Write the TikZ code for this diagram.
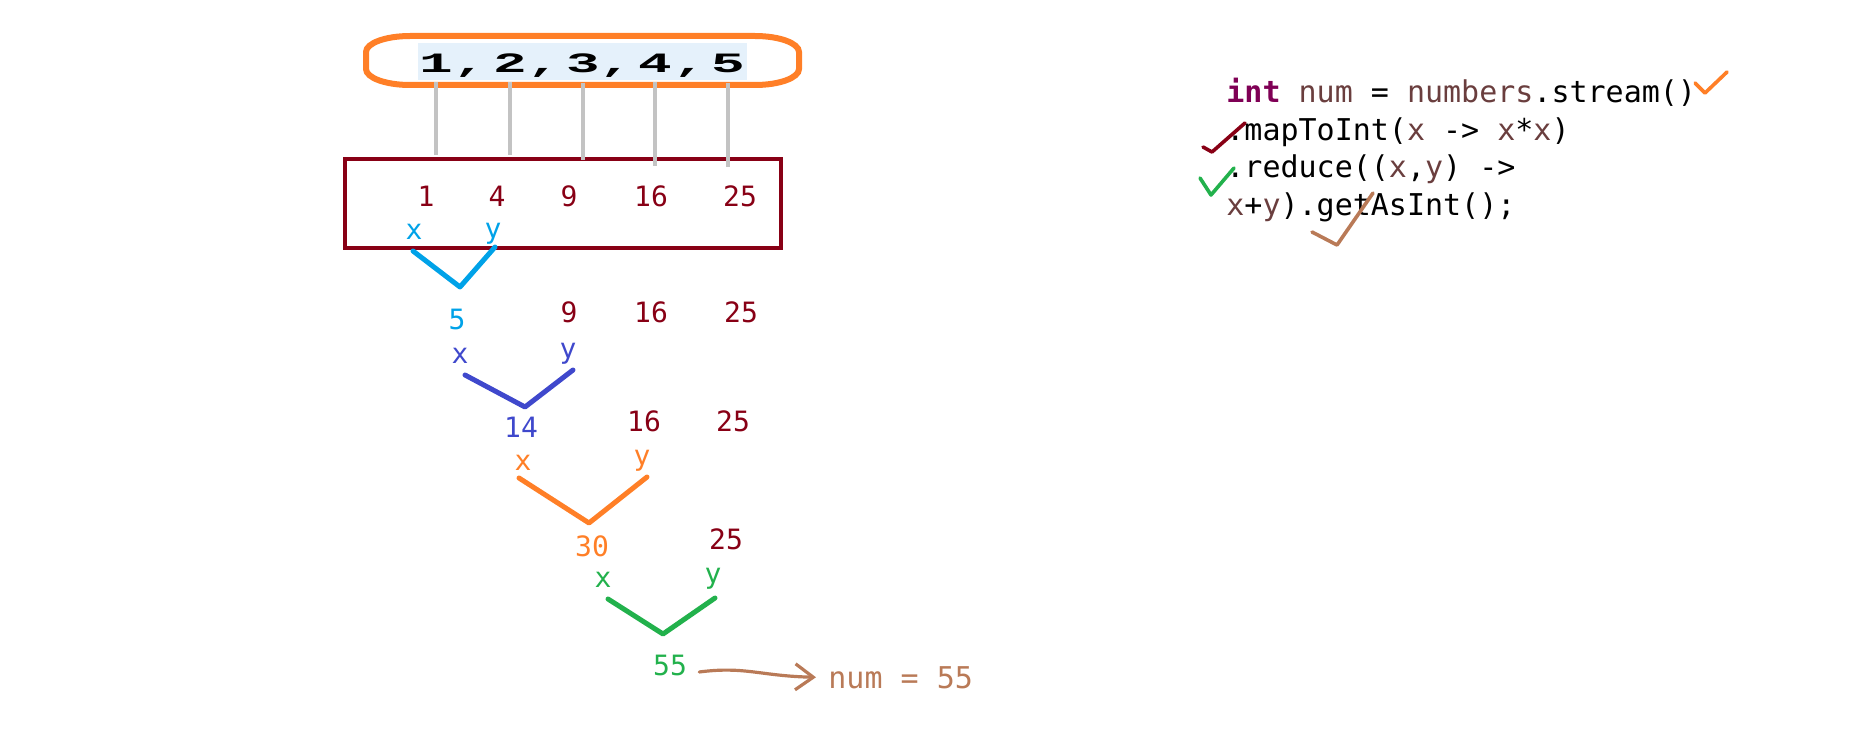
\documentclass[tikz,border=0pt]{standalone}
\usepackage{fontspec}
\setmonofont{DejaVu Sans Mono}
\newfontfamily\arrfont{Liberation Mono}[FakeStretch=2.0]
\usetikzlibrary{arrows.meta}
\definecolor{boxred}{HTML}{880015}
\definecolor{pcyan}{HTML}{00A2E8}
\definecolor{pblue}{HTML}{3F48CC}
\definecolor{porange}{HTML}{FF7F27}
\definecolor{pgreen}{HTML}{22B14C}
\definecolor{pbrown}{HTML}{B97A57}
\definecolor{linegray}{HTML}{C3C3C3}
\definecolor{hilite}{HTML}{E5F1FB}
\definecolor{kw}{HTML}{7F0055}
\definecolor{var}{HTML}{6A3E3E}
\begin{document}
\begin{tikzpicture}[x=0.5pt,y=-0.5pt,
  digit/.style={font=\arrfont\bfseries\fontsize{14}{14}\selectfont, anchor=base, inner sep=0pt},
  val/.style={font=\ttfamily\fontsize{14}{14}\selectfont, anchor=base, inner sep=0pt, text=boxred},
  link/.style={draw=linegray, line width=2pt},
  vee/.style={line width=2.5pt, line cap=round, line join=round},
  tick/.style={line width=1.8pt, line cap=round, line join=round},
  code/.style={font=\ttfamily\fontsize{15}{15}\selectfont, anchor=base west, inner sep=0pt}]
\useasboundingbox (0,0) rectangle (1850,743);
% source list
\fill[hilite] (418,43) rectangle (747,80);
\draw[porange, line width=3pt]
  (410,36) -- (755,36) arc[start angle=-90, end angle=0, x radius=44, y radius=16]
  -- (799,69) arc[start angle=0, end angle=90, x radius=44, y radius=16]
  -- (410,85) arc[start angle=90, end angle=180, x radius=44, y radius=16]
  -- (366,52) arc[start angle=180, end angle=270, x radius=44, y radius=16] -- cycle;
\foreach \x [count=\k] in {470,544,616,690}
  \node[digit] (cm\k) at (\x,73) {,};
% squared values
\draw[boxred, line width=2pt] (345,159) rectangle (781,248);
\foreach \i/\x/\e in {1/436/155,2/510/155,3/583/160,4/655/166,5/728/167} {
  \node[digit] (d\i) at (\x,73) {\i};
  \coordinate (t\i) at (\x,\e);
  \draw[link] ([yshift=-4.5pt]d\i.south) -- (t\i);
}
\foreach \v/\x [count=\k] in {1/426,4/497,9/569,16/651,25/740}
  \node[val] (s\k) at (\x,206) {\v};
% step 1
\node[val, text=pcyan] (x1) at (414,240) {x};
\node[val, text=pcyan] (y1) at (493,239) {y};
\draw[vee, pcyan] (413,251) -- (460,287) -- (495,247);
\node[val, text=pcyan] (r1) at (457,329) {5};
\node[val] (a9) at (569,322) {9};
\node[val] (a16) at (651,322) {16};
\node[val] (a25) at (741,322) {25};
% step 2
\node[val, text=pblue] (x2) at (460,363) {x};
\node[val, text=pblue] (y2) at (568,358) {y};
\draw[vee, pblue] (465,375) -- (525,407) -- (573,370);
\node[val, text=pblue] (r2) at (521,437) {14};
\node[val] (b16) at (644,431) {16};
\node[val] (b25) at (733,431) {25};
% step 3
\node[val, text=porange] (x3) at (523,470) {x};
\node[val, text=porange] (y3) at (642,465) {y};
\draw[vee, porange] (519,478) -- (589,523) -- (647,477);
\node[val, text=porange] (r3) at (592,556) {30};
\node[val] (c25) at (726,549) {25};
% step 4
\node[val, text=pgreen] (x4) at (603,587) {x};
\node[val, text=pgreen] (y4) at (713,583) {y};
\draw[vee, pgreen] (608,599) -- (663,634) -- (715,598);
\node[val, text=pgreen] (r4) at (670,675) {55};
% result
\node[val, anchor=base west, text=pbrown, font=\ttfamily\fontsize{15}{15}\selectfont] (res) at (828,688) {num = 55};
\draw[pbrown, line width=1.6pt, line cap=round, -{Straight Barb[length=9pt,width=13pt]}]
  ([xshift=6pt,yshift=-3.5pt]r4.east) .. controls (745,666) and (760,676) .. ([xshift=-6pt]res.west);
% code
\node[code] (l1) at (1226,103) {\textcolor{kw}{\bfseries int} \textcolor{var}{num} = \textcolor{var}{numbers}.stream()};
\node[code] (l2) at (1226,141) {.mapToInt(\textcolor{var}{x} -> \textcolor{var}{x}*\textcolor{var}{x})};
\node[code] (l3) at (1226,177) {.reduce((\textcolor{var}{x},\textcolor{var}{y}) ->};
\node[code] (l4) at (1226,216) {\textcolor{var}{x}+\textcolor{var}{y}).getAsInt();};
% ticks
\draw[tick, porange] (1695,83) -- (1705,93) -- (1727,72);
\draw[tick, boxred] (1203,147) -- (1212,152) -- (1245,123);
\draw[tick, pgreen] (1200,178) -- (1211,195) -- (1234,168);
\draw[tick, pbrown] (1312,232) -- (1337,245) -- (1373,193);
\end{tikzpicture}
\end{document}
